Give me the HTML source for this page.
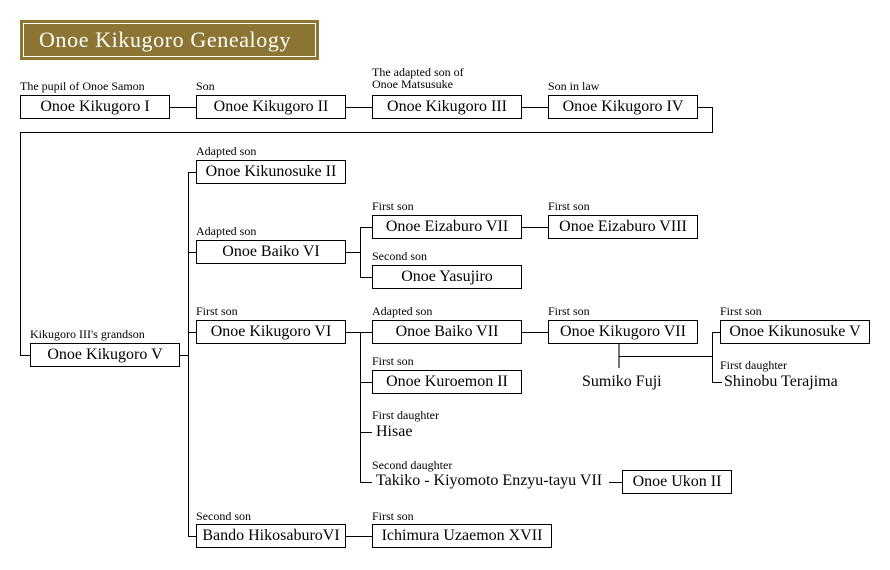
<!DOCTYPE html>
<html><head><meta charset="utf-8"><style>
body{margin:0;width:890px;height:570px;background:#fff;position:relative;font-family:"Liberation Serif",serif;color:#000;overflow:hidden}
.t{position:absolute;left:20px;top:20px;width:299px;height:40px;background:#8c7432;box-sizing:border-box}
.t div{position:absolute;left:3px;top:3px;right:3px;bottom:3px;border:1px solid #fff;color:#fff;font-size:22px;line-height:32px;padding-left:15px;letter-spacing:.6px;white-space:nowrap}
.b{position:absolute;height:24px;border:1px solid #000;box-sizing:border-box;font-size:16px;line-height:22px;text-align:center;background:#fff;white-space:nowrap}
.l{position:absolute;font-size:12px;white-space:nowrap;line-height:12px}
.x{position:absolute;font-size:16px;white-space:nowrap;line-height:18px}
.h{position:absolute;height:1px;background:#000}
.v{position:absolute;width:1px;background:#000}
</style></head><body>
<div class="t"><div>Onoe Kikugoro Genealogy</div></div>

<div class="l" style="left:20px;top:80px">The pupil of Onoe Samon</div>
<div class="b" style="left:20px;top:95px;width:150px">Onoe Kikugoro I</div>
<div class="l" style="left:196px;top:80px">Son</div>
<div class="b" style="left:196px;top:95px;width:150px">Onoe Kikugoro II</div>
<div class="l" style="left:372px;top:66px">The adapted son of<br>Onoe Matsusuke</div>
<div class="b" style="left:372px;top:95px;width:150px">Onoe Kikugoro III</div>
<div class="l" style="left:548px;top:80px">Son in law</div>
<div class="b" style="left:548px;top:95px;width:150px">Onoe Kikugoro IV</div>
<div class="h" style="left:170px;top:107px;width:26px"></div>
<div class="h" style="left:346px;top:107px;width:26px"></div>
<div class="h" style="left:522px;top:107px;width:26px"></div>
<div class="h" style="left:698px;top:107px;width:14px"></div>
<div class="v" style="left:712px;top:107px;height:26px"></div>
<div class="h" style="left:20px;top:132px;width:693px"></div>
<div class="v" style="left:20px;top:132px;height:224px"></div>
<div class="h" style="left:20px;top:355px;width:10px"></div>

<div class="l" style="left:30px;top:328px">Kikugoro III's grandson</div>
<div class="b" style="left:30px;top:343px;width:150px">Onoe Kikugoro V</div>
<div class="h" style="left:180px;top:355px;width:8px"></div>
<div class="v" style="left:188px;top:172px;height:365px"></div>

<div class="l" style="left:196px;top:145px">Adapted son</div>
<div class="b" style="left:196px;top:160px;width:150px">Onoe Kikunosuke II</div>
<div class="h" style="left:188px;top:172px;width:8px"></div>
<div class="l" style="left:196px;top:225px">Adapted son</div>
<div class="b" style="left:196px;top:240px;width:150px">Onoe Baiko VI</div>
<div class="h" style="left:188px;top:252px;width:8px"></div>
<div class="l" style="left:196px;top:305px">First son</div>
<div class="b" style="left:196px;top:320px;width:150px">Onoe Kikugoro VI</div>
<div class="h" style="left:188px;top:332px;width:8px"></div>
<div class="l" style="left:196px;top:510px">Second son</div>
<div class="b" style="left:196px;top:524px;width:150px">Bando HikosaburoVI</div>
<div class="h" style="left:188px;top:536px;width:8px"></div>

<div class="h" style="left:346px;top:252px;width:14px"></div>
<div class="v" style="left:360px;top:227px;height:51px"></div>
<div class="h" style="left:360px;top:227px;width:12px"></div>
<div class="h" style="left:360px;top:277px;width:12px"></div>
<div class="l" style="left:372px;top:200px">First son</div>
<div class="b" style="left:372px;top:215px;width:150px">Onoe Eizaburo VII</div>
<div class="l" style="left:372px;top:250px">Second son</div>
<div class="b" style="left:372px;top:265px;width:150px">Onoe Yasujiro</div>
<div class="h" style="left:522px;top:227px;width:26px"></div>
<div class="l" style="left:548px;top:200px">First son</div>
<div class="b" style="left:548px;top:215px;width:150px">Onoe Eizaburo VIII</div>

<div class="h" style="left:346px;top:332px;width:26px"></div>
<div class="v" style="left:360px;top:332px;height:151px"></div>
<div class="h" style="left:360px;top:382px;width:12px"></div>
<div class="h" style="left:360px;top:432px;width:12px"></div>
<div class="h" style="left:360px;top:482px;width:12px"></div>
<div class="l" style="left:372px;top:305px">Adapted son</div>
<div class="b" style="left:372px;top:320px;width:150px">Onoe Baiko VII</div>
<div class="l" style="left:372px;top:355px">First son</div>
<div class="b" style="left:372px;top:370px;width:150px">Onoe Kuroemon II</div>
<div class="l" style="left:372px;top:409px">First daughter</div>
<div class="x" style="left:376px;top:423px">Hisae</div>
<div class="l" style="left:372px;top:459px">Second daughter</div>
<div class="x" style="left:376px;top:472px">Takiko - Kiyomoto Enzyu-tayu VII</div>
<div class="h" style="left:609px;top:482px;width:13px"></div>
<div class="b" style="left:622px;top:470px;width:110px">Onoe Ukon II</div>
<div class="l" style="left:372px;top:510px">First son</div>
<div class="b" style="left:372px;top:524px;width:180px">Ichimura Uzaemon XVII</div>
<div class="h" style="left:346px;top:536px;width:26px"></div>

<div class="h" style="left:522px;top:332px;width:26px"></div>
<div class="l" style="left:548px;top:305px">First son</div>
<div class="b" style="left:548px;top:320px;width:150px">Onoe Kikugoro VII</div>
<div class="v" style="left:618px;top:344px;height:24px;width:2px;background:#777"></div>
<div class="h" style="left:619px;top:356px;width:93px"></div>
<div class="x" style="left:582px;top:373px">Sumiko Fuji</div>
<div class="v" style="left:712px;top:332px;height:51px"></div>
<div class="h" style="left:712px;top:332px;width:8px"></div>
<div class="h" style="left:712px;top:382px;width:10px"></div>
<div class="l" style="left:720px;top:305px">First son</div>
<div class="b" style="left:720px;top:320px;width:150px">Onoe Kikunosuke V</div>
<div class="l" style="left:720px;top:359px">First daughter</div>
<div class="x" style="left:724px;top:373px">Shinobu Terajima</div>
</body></html>
